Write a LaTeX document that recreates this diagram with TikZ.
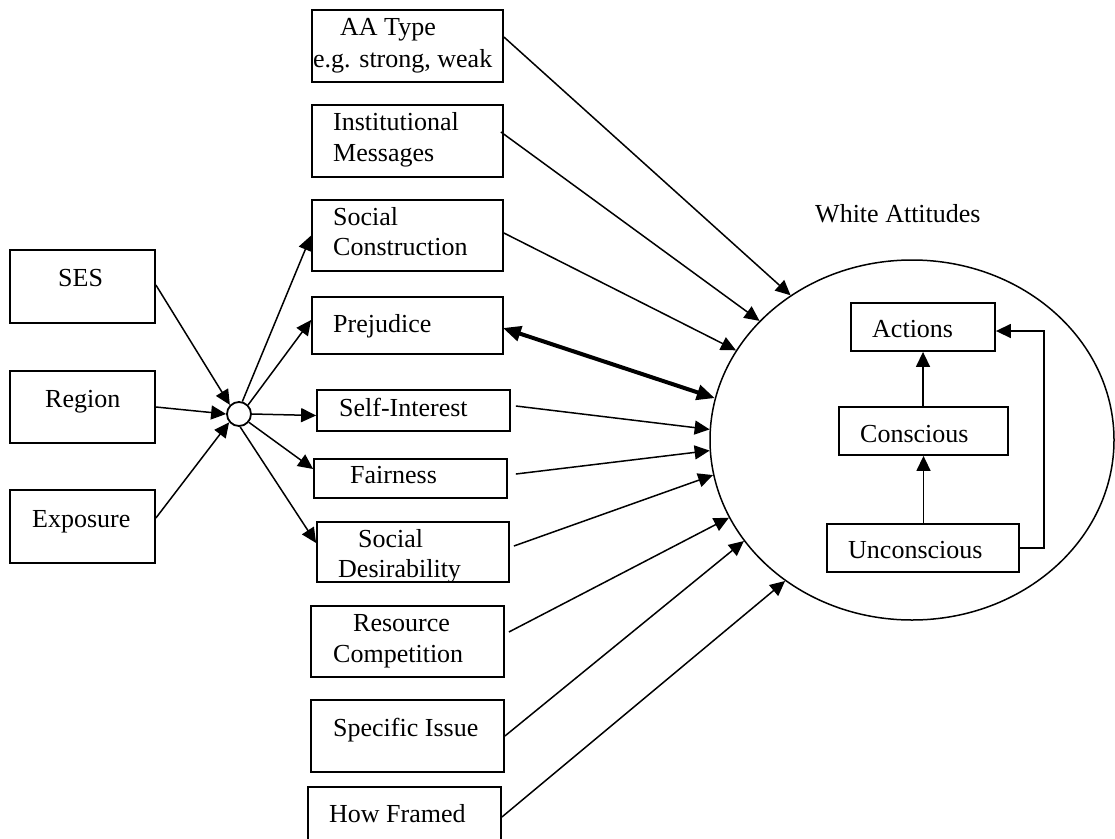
\documentclass[tikz,border=0pt]{standalone}
\usepackage{fontspec}
\setmainfont{Liberation Serif}
\usetikzlibrary{arrows.meta,shapes.geometric}
\begin{document}
\begin{tikzpicture}[x=1pt,y=-1pt,
  box/.style={draw,line width=1.8pt,inner sep=0pt,rectangle},
  txt/.style={anchor=base west,inner sep=0pt,font=\fontsize{26}{31}\selectfont},
  conn/.style={-{Triangle[length=15pt,width=14pt]},line width=1.5pt},
  thickconn/.style={{Triangle[length=18pt,width=15pt]}-{Triangle[length=18pt,width=15pt]},line width=4pt}
]
\useasboundingbox (0,0) rectangle (1115,838);

% left boxes
\node[box,minimum width=145pt,minimum height=73pt] (ses) at (82.5,286.5) {};
\node[box,minimum width=145pt,minimum height=72pt] (reg) at (82.5,407) {};
\node[box,minimum width=145pt,minimum height=73pt] (exp) at (82.5,526.5) {};
\node[txt] (ses-t) at (58,286) {SES};
\node[txt] (reg-t) at (45,407) {Region};
\node[txt] (exp-t) at (32,527) {Exposure};

% small circle
\node[draw,circle,line width=1.8pt,minimum size=24pt,inner sep=0pt] (c) at (239,414) {};

% middle boxes
\node[box,minimum width=191pt,minimum height=72pt] (aa) at (407.5,46) {};
\node[box,minimum width=191pt,minimum height=72pt] (inst) at (407.5,141) {};
\node[box,minimum width=191pt,minimum height=71pt] (sc) at (407.5,235.5) {};
\node[box,minimum width=191pt,minimum height=57pt] (prej) at (407.5,325.5) {};
\node[box,minimum width=193pt,minimum height=41pt] (self) at (413.5,410.5) {};
\node[box,minimum width=193pt,minimum height=39pt] (fair) at (410.5,478.5) {};
\node[box,minimum width=192pt,minimum height=60pt] (sd) at (413,552) {};
\node[box,minimum width=193pt,minimum height=71pt] (res) at (407.5,641.5) {};
\node[box,minimum width=193pt,minimum height=72pt] (spec) at (407.5,736) {};
\node[box,minimum width=193pt,minimum height=72pt] (how) at (404.5,823) {};

\node[txt] (aa-t1) at (340,35) {AA Type};
\node[txt] (aa-t2) at (313,67) {e.g. strong, weak};
\node[txt] (inst-t1) at (333,130) {Institutional};
\node[txt] (inst-t2) at (333,161) {Messages};
\node[txt] (sc-t1) at (333,225) {Social};
\node[txt] (sc-t2) at (333,255) {Construction};
\node[txt] (prej-t) at (333,332) {Prejudice};
\node[txt] (self-t) at (339,416) {Self-Interest};
\node[txt] (fair-t) at (350,483) {Fairness};
\node[txt] (sd-t1) at (358,547) {Social};
\node[txt] (sd-t2) at (338,577) {Desirability};
\node[txt] (res-t1) at (353,631) {Resource};
\node[txt] (res-t2) at (333,662) {Competition};
\node[txt] (spec-t) at (333,736) {Specific Issue};
\node[txt] (how-t) at (329,822) {How Framed};

% big ellipse
\node[draw,ellipse,line width=1.5pt,minimum width=404pt,minimum height=360pt,inner sep=0pt] (att) at (912,440) {};
\node[txt] (att-t) at (815,222) {White Attitudes};

% inner boxes
\node[box,minimum width=144pt,minimum height=48pt] (act) at (923,327) {};
\node[box,minimum width=169pt,minimum height=48pt] (con) at (923.5,431) {};
\node[box,minimum width=192pt,minimum height=48pt] (unc) at (923,548) {};
\node[txt] (act-t) at (872,337) {Actions};
\node[txt] (con-t) at (860,442) {Conscious};
\node[txt] (unc-t) at (848,558) {Unconscious};

% inner arrows
\draw[conn] (con.north -| act.south) -- (act.south);
\draw[conn] (unc.north -| con.south) -- (con.south);
\draw[conn] (unc.east) -- ++(24,0) |- ([yshift=-4pt]act.east);

% left to circle
\draw[conn] ([yshift=1.5pt]ses.east) -- (c.135);
\draw[conn] (reg.east) -- (c.west);
\draw[conn] ([yshift=8.5pt]exp.east) -- (c.220);

% circle to middle
\draw[conn] (c.75) -- (sc.west);
\draw[conn] (c.45) -- ([yshift=5.5pt]prej.west);
\draw[conn] (c.east) -- ([yshift=-5pt]self.west);
\draw[conn] (c.-40) -- ([yshift=9.5pt]fair.west);
\draw[conn] (c.-85) -- ([yshift=9pt]sd.west);

% middle to ellipse
\draw[conn] ([yshift=9pt]aa.east) -- (att.130.4);
\draw[conn] ([xshift=-3pt,yshift=9pt]inst.east) -- (att.142);
\draw[conn] ([yshift=2.5pt]sc.east) -- (att.153.6);
\draw[thickconn] ([xshift=-1pt,yshift=-2.5pt]prej.east) -- (att.168);
\draw[conn] ([xshift=5pt,yshift=4.5pt]self.east) -- (att.177.2);
\draw[conn] ([xshift=8pt,yshift=4.5pt]fair.east) -- (att.183.1);
\draw[conn] ([xshift=4pt,yshift=6pt]sd.east) -- (att.190);
\draw[conn] ([xshift=4pt,yshift=9.5pt]res.east) -- (att.203.1);
\draw[conn] (spec.east) -- (att.211.5);
\draw[conn] ([yshift=6pt]how.east) -- (att.228.2);
\end{tikzpicture}
\end{document}
